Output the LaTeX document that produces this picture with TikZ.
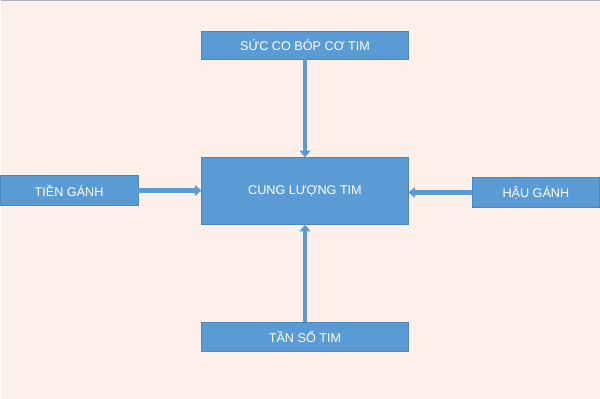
\documentclass[tikz,border=0pt]{standalone}
\usepackage{fontspec}
\setmainfont{Liberation Sans}
\usetikzlibrary{arrows.meta}
\definecolor{bg}{HTML}{FDEFE9}
\definecolor{bx}{HTML}{5B9BD5}
\definecolor{bxd}{HTML}{4A86C0}
\begin{document}
\begin{tikzpicture}[x=0.75pt,y=-0.75pt,
  box/.style={draw=bxd,fill=bx,text=white,inner sep=0pt,font=\fontsize{9.5}{11}\selectfont},
  conn/.style={draw=bx,line width=3.5pt,-{Triangle[length=5pt,width=8pt]}}]
\fill[bg] (0,0) rectangle (600,400);
\draw[gray!60] (0,0.5) -- (600,0.5);
\node[box,minimum width=207*0.75pt,minimum height=28*0.75pt] (top) at (304.5,45) {SỨC CO BÓP CƠ TIM};
\node[box,minimum width=207*0.75pt,minimum height=67*0.75pt] (mid) at (304.5,191.5) {CUNG LƯỢNG TIM};
\node[box,minimum width=138*0.75pt,minimum height=30*0.75pt] (left) at (68,191) {TIỀN GÁNH};
\node[box,minimum width=128*0.75pt,minimum height=30*0.75pt] (right) at (536,193) {HẬU GÁNH};
\node[box,minimum width=207*0.75pt,minimum height=29*0.75pt] (bot) at (304.5,337.5) {TẦN SỐ TIM};
\draw[conn] (top.south) -- (mid.north);
\draw[conn] (bot.north) -- (mid.south);
\draw[conn] (left.east) -- (left.east -| mid.west);
\draw[conn] (right.west) -- (right.west -| mid.east);
\end{tikzpicture}
\end{document}
